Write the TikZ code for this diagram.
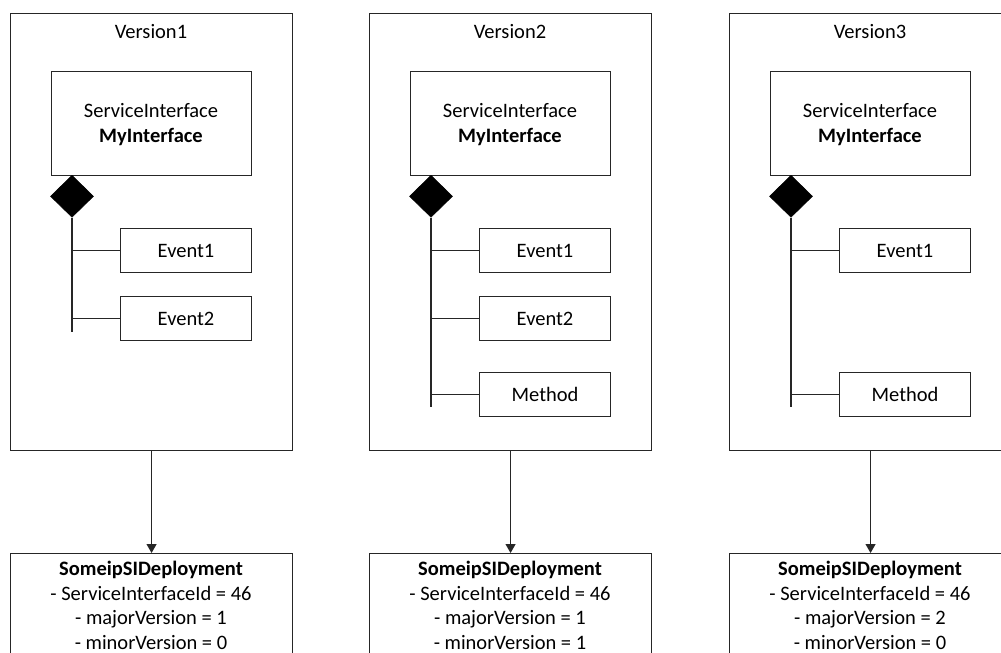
\documentclass[tikz,border=0pt]{standalone}
\usepackage{fontspec}
\setmainfont{Carlito}
\usetikzlibrary{arrows.meta,shapes.geometric}
\begin{document}
\begin{tikzpicture}[x=1pt,y=-1pt,
  every node/.style={font=\fontsize{20.5}{24.5}\selectfont, text=black},
  line/.style={draw=black!85, line width=1.1pt},
  frame/.style={line, rectangle, inner sep=0pt, minimum width=282pt, minimum height=437pt, anchor=north west},
  sibox/.style={line, rectangle, inner sep=0pt, minimum width=200pt, minimum height=104pt, anchor=north west},
  sitext/.style={anchor=base, align=center, inner sep=0pt},
  member/.style={line, rectangle, inner sep=0pt, minimum width=131pt, minimum height=44pt, anchor=north west},
  comp/.style={diamond, fill=black, draw=black, line width=0.6pt, inner sep=0pt, minimum width=43pt, minimum height=42pt, anchor=north},
  depbox/.style={line, rectangle, inner sep=0pt, minimum width=282pt, minimum height=130pt, anchor=north west},
  deptext/.style={anchor=base, align=center, inner sep=0pt},
  title/.style={anchor=base, inner sep=0pt},
  arr/.style={line, -{Triangle[length=9pt,width=10pt]}}
]
\useasboundingbox (0,0) rectangle (1001,653);
\clip (0,0) rectangle (1001,653);

% ---------- Version 1 ----------
\node[frame] (v1) at (10,13) {};
\node[title] (t1) at (151,38) {Version1};
\node[sibox] (si1) at (51,71) {};
\node[sitext] (st1) at (151,142) {ServiceInterface\\\textbf{MyInterface}};
\node[comp] (d1) at (72,175) {};
\node[member] (e11) at (120,228) {Event1};
\node[member] (e12) at (120,296) {Event2};
\coordinate (end1) at (72,332);
\draw[line] (d1.south) -- (end1);
\draw[line] (e11.west) -- (e11.west -| d1.south);
\draw[line] (e12.west) -- (e12.west -| d1.south);
\node[depbox] (dep1) at (10,553) {};
\node[deptext] (dt1) at (151,649) {\textbf{SomeipSIDeployment}\\- ServiceInterfaceId = 46\\- majorVersion = 1\\- minorVersion = 0};
\draw[arr] (v1.south) -- (dep1.north);

% ---------- Version 2 ----------
\node[frame] (v2) at (369,13) {};
\node[title] (t2) at (510,38) {Version2};
\node[sibox] (si2) at (410,71) {};
\node[sitext] (st2) at (510,142) {ServiceInterface\\\textbf{MyInterface}};
\node[comp] (d2) at (431,175) {};
\node[member] (e21) at (479,228) {Event1};
\node[member] (e22) at (479,296) {Event2};
\node[member] (m2) at (479,372) {Method};
\coordinate (end2) at (431,407);
\draw[line] (d2.south) -- (end2);
\draw[line] (e21.west) -- (e21.west -| d2.south);
\draw[line] (e22.west) -- (e22.west -| d2.south);
\draw[line] (m2.west) -- (m2.west -| d2.south);
\node[depbox] (dep2) at (369,553) {};
\node[deptext] (dt2) at (510,649) {\textbf{SomeipSIDeployment}\\- ServiceInterfaceId = 46\\- majorVersion = 1\\- minorVersion = 1};
\draw[arr] (v2.south) -- (dep2.north);

% ---------- Version 3 ----------
\node[frame] (v3) at (729,13) {};
\node[title] (t3) at (870,38) {Version3};
\node[sibox] (si3) at (770,71) {};
\node[sitext] (st3) at (870,142) {ServiceInterface\\\textbf{MyInterface}};
\node[comp] (d3) at (791,175) {};
\node[member] (e31) at (839,228) {Event1};
\node[member] (m3) at (839,372) {Method};
\coordinate (end3) at (791,407);
\draw[line] (d3.south) -- (end3);
\draw[line] (e31.west) -- (e31.west -| d3.south);
\draw[line] (m3.west) -- (m3.west -| d3.south);
\node[depbox] (dep3) at (729,553) {};
\node[deptext] (dt3) at (870,649) {\textbf{SomeipSIDeployment}\\- ServiceInterfaceId = 46\\- majorVersion = 2\\- minorVersion = 0};
\draw[arr] (v3.south) -- (dep3.north);
\end{tikzpicture}
\end{document}
